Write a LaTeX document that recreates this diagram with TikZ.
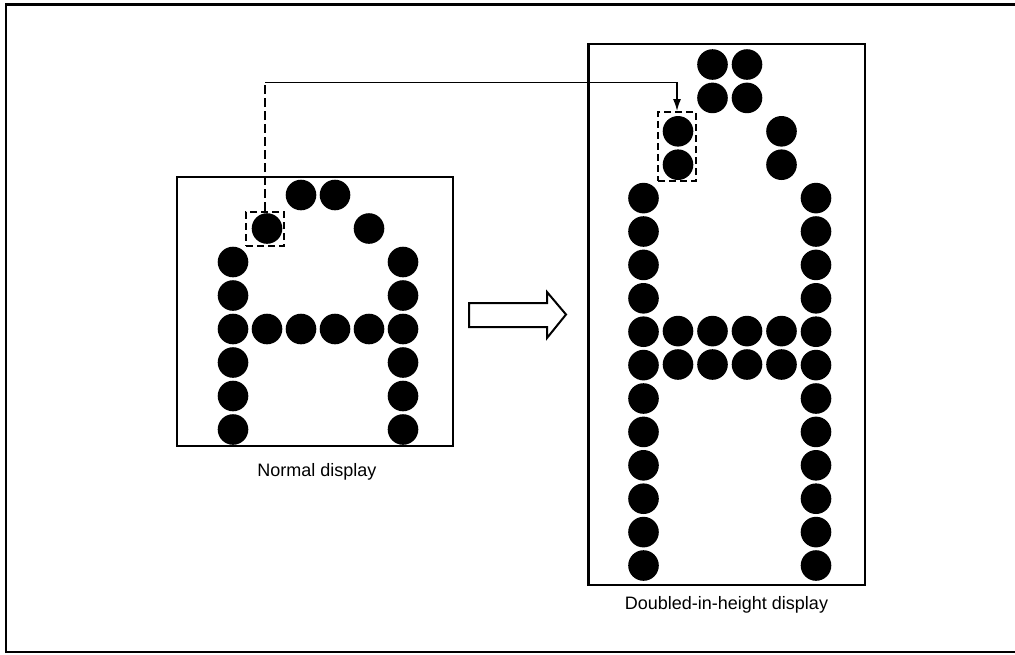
\documentclass[tikz,border=0pt]{standalone}
\usepackage{fontspec}
\setmainfont{Liberation Sans}
\usetikzlibrary{arrows.meta}
\def\dotat(#1,#2){\fill[black] (#1,#2) circle (15.3);}

\begin{document}
\begin{tikzpicture}[x=1pt, y=-1pt]
		%%%%% START %%%%%
		\useasboundingbox (0,0) rectangle (1015,654);
		
		\draw[line width=2.8pt] (1015, 4.5) -- (6, 4.5) -- (6, 652) -- (1015, 652);
		
		% normal display
		\draw[line width=2.3pt] (177, 177) rectangle (453, 446);
		\foreach \c in {2,3} {\dotat(233+34*\c, 195)}
		\foreach \c in {1,4} {\dotat(233+34*\c, 228.5)}
		\foreach \r in {2,...,7} {\dotat(233, 195+33.5*\r) \dotat(403, 195+33.5*\r)}
		\foreach \c in {1,...,4} {\dotat(233+34*\c, 329)}
		\node[font=\fontsize{18}{21}\selectfont] (normal) at (317, 472) {Normal display};
		
		% doubled-in-height display
		\draw[line width=2.3pt] (588.5, 44) rectangle (865, 585);
		\foreach \r in {0,1} {\dotat(712.5, 64.5+33.4*\r) \dotat(747, 64.5+33.4*\r)}
		\foreach \r in {2,3} {\dotat(678, 64.5+33.4*\r) \dotat(781.5, 64.5+33.4*\r)}
		\foreach \r in {4,...,15} {\dotat(643.5, 64.5+33.4*\r) \dotat(816, 64.5+33.4*\r)}
		\foreach \c in {1,...,4} {\dotat(643.5+34.5*\c, 331.1) \dotat(643.5+34.5*\c, 364.5)}
		\node[font=\fontsize{18}{21}\selectfont] (doubled) at (726.5, 605) {Doubled-in-height display};
		
		% hollow arrow
		\draw[line width=2pt, line join=miter] (469, 303) -- (547, 303) -- (547, 292) -- (566, 314.5) -- (547, 338) -- (547, 327) -- (469, 327) -- cycle;
		
		% dashed selection and connector
		\node[draw, line width=1.8pt, dash pattern=on 7pt off 4pt, minimum width=38pt, minimum height=34pt, inner sep=0pt] (lsel) at (265, 229) {};
		\node[draw, line width=1.8pt, dash pattern=on 7pt off 4pt, minimum width=38pt, minimum height=69pt, inner sep=0pt] (rsel) at (677, 146.5) {};
		\coordinate (bend) at (265, 82.5);
		\draw[line width=1.7pt, dash pattern=on 9pt off 4pt] (lsel.north) -- (bend);
		\draw[line width=1.7pt, -{Latex[length=12pt, width=8pt]}] (bend) -| (rsel.north);
		
		%%%%% END %%%%%
	\end{tikzpicture}
\end{document}
